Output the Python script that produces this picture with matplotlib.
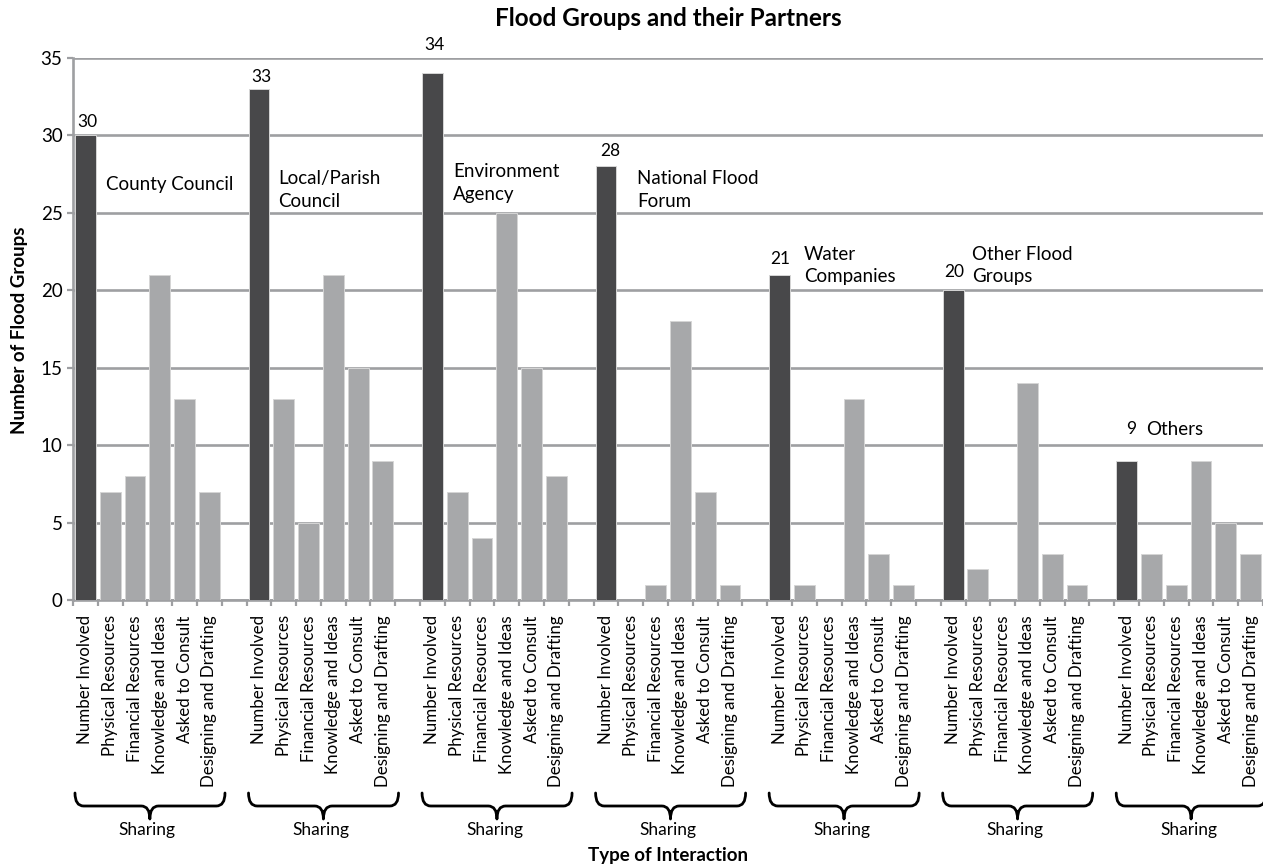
import matplotlib
matplotlib.use("Agg")
import matplotlib.pyplot as plt
from matplotlib.path import Path
from matplotlib.patches import PathPatch
from matplotlib.transforms import blended_transform_factory

plt.rcParams["font.family"] = ["Lato", "DejaVu Sans"]

# ---- data -------------------------------------------------------------
partners = ["County Council", "Local/Parish\nCouncil", "Environment\nAgency",
            "National Flood\nForum", "Water\nCompanies", "Other Flood\nGroups",
            "Others"]
interactions = ["Number Involved", "Physical Resources", "Financial Resources",
                "Knowledge and Ideas", "Asked to Consult",
                "Designing and Drafting"]
number_involved = [30, 33, 34, 28, 21, 20, 9]
physical_resources = [7, 13, 7, 0, 1, 2, 3]
financial_resources = [8, 5, 4, 1, 0, 0, 1]
knowledge_and_ideas = [21, 21, 25, 18, 13, 14, 9]
asked_to_consult = [13, 15, 15, 7, 3, 3, 5]
designing_and_drafting = [7, 9, 8, 1, 1, 1, 3]
group_caption = "Sharing"
title = "Flood Groups and their Partners"
x_title = "Type of Interaction"
y_title = "Number of Flood Groups"

# ---- layout / style ---------------------------------------------------
DARK = "#48484a"
LIGHT = "#a7a8aa"
GRID = "#9e9fa2"
SLOTS_PER_GROUP = len(interactions) + 1          # bars plus one empty gap
# partner name anchor (x offset from group start, y in data units)
name_pos = [(0.83, 26.8), (0.77, 26.5), (0.82, 26.9), (1.24, 26.5),
            (0.98, 21.6), (0.75, 21.6), (0.80, 11.0)]
# offset (px) of each value label centre from the top of its bar
value_dx_px = [2, 3, 2, 4, 1, 1, 5]
value_gap_px = [13, 12, 28, 15, 16, 18, 32]

W, H = 1263, 867
fig = plt.figure(figsize=(W / 100, H / 100), dpi=100)
ax = fig.add_axes([73 / W, 1 - 600 / H, 1190 / W, 542 / H])

series = [number_involved, physical_resources, financial_resources,
          knowledge_and_ideas, asked_to_consult, designing_and_drafting]
n_groups = len(partners)
n_slots = n_groups * SLOTS_PER_GROUP - 1

tick_pos, tick_lab = [], []
for g in range(n_groups):
    base = g * SLOTS_PER_GROUP
    for s, vals in enumerate(series):
        x = base + s
        ax.bar(x, vals[g], width=0.84, color=DARK if s == 0 else LIGHT,
               edgecolor="#d6d6d6", linewidth=0.7, zorder=3)
        tick_pos.append(x)
        tick_lab.append(interactions[s])

    # value label above the "Number Involved" bar
    ax.annotate(str(number_involved[g]), xy=(base, number_involved[g]),
                xytext=(value_dx_px[g] * 0.72, value_gap_px[g] * 0.72),
                textcoords="offset points",
                ha="center", va="center", fontsize=12.5, color="black",
                zorder=5)
    # partner name
    nx, ny = name_pos[g]
    ax.text(base + nx, ny, partners[g], ha="left", va="center",
            fontsize=13.5, linespacing=1.42, zorder=5)

ax.set_xlim(-0.5, n_slots - 0.5)
ax.set_ylim(0, 35)
ax.set_yticks(range(0, 36, 5))
ax.set_xticks(tick_pos)
ax.set_xticklabels(tick_lab, rotation=90, fontsize=12.2)
ax.set_xticks([i - 0.5 for i in range(n_slots + 1)], minor=True)

ax.tick_params(axis="x", which="major", length=0, pad=11)
ax.tick_params(axis="x", which="minor", length=4.5, width=1.6, color=GRID,
               direction="out")
ax.tick_params(axis="y", which="major", length=4.5, width=1.6, color=GRID,
               direction="out", labelsize=13.5, pad=3)

ax.yaxis.grid(True, color=GRID, linewidth=1.9)
ax.set_axisbelow(True)
for side in ("top", "right"):
    ax.spines[side].set_visible(False)
for side in ("left", "bottom"):
    ax.spines[side].set_color(GRID)
    ax.spines[side].set_linewidth(1.9)

# ---- group braces and captions ---------------------------------------
tr = blended_transform_factory(ax.transData, fig.transFigure)
y_top, y_mid, y_tip = 1 - 793 / H, 1 - 806 / H, 1 - 819 / H
r = 0.35
for g in range(n_groups):
    base = g * SLOTS_PER_GROUP
    x0, x1 = base - 0.42, base + 5.63
    xm = base + 2.6
    verts = [(x0, y_top), (x0, y_mid), (x0 + r, y_mid),
             (xm - r, y_mid),
             (xm, y_mid), (xm, y_tip),
             (xm, y_mid), (xm + r, y_mid),
             (x1 - r, y_mid),
             (x1, y_mid), (x1, y_top)]
    codes = [Path.MOVETO, Path.CURVE3, Path.CURVE3,
             Path.LINETO,
             Path.CURVE3, Path.CURVE3,
             Path.CURVE3, Path.CURVE3,
             Path.LINETO,
             Path.CURVE3, Path.CURVE3]
    fig.add_artist(PathPatch(Path(verts, codes), transform=tr, fill=False,
                             lw=2.0, color="black", capstyle="round",
                             joinstyle="round"))
    fig.text(base + 2.5, 1 - 830 / H, group_caption, transform=tr,
             ha="center", va="center", fontsize=12.5)

# ---- titles -----------------------------------------------------------
fig.text(668 / W, 1 - 18 / H, title, ha="center", va="center",
         fontsize=17.5, fontweight="bold")
fig.text(668 / W, 1 - 856 / H, x_title, ha="center", va="center",
         fontsize=13.5, fontweight="bold")
fig.text(20 / W, 1 - 330 / H, y_title, ha="center", va="center",
         rotation=90, fontsize=13.5, fontweight="bold")

fig.savefig("out.png", dpi=100)
